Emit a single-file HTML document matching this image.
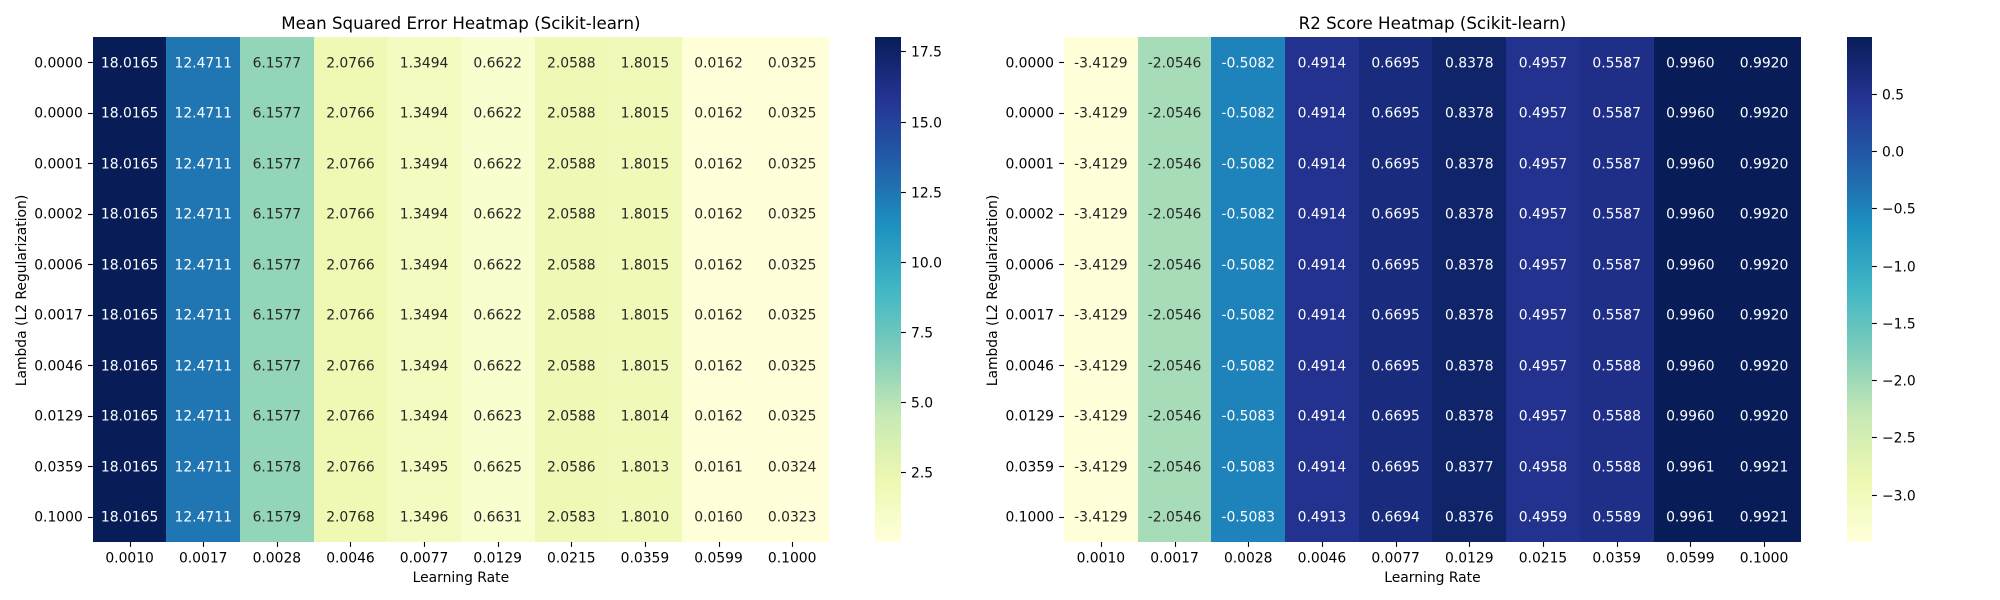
<!DOCTYPE html>
<html lang="en">
<head>
<meta charset="utf-8">
<title>Scikit-learn Heatmaps</title>
<style>
  html, body { margin: 0; padding: 0; background: #ffffff; }
  #figure { display: block; width: 2000px; height: 600px; }
  text { font-family: "DejaVu Sans", "Liberation Sans", sans-serif; }
</style>
</head>
<body>
<svg id="figure" xmlns="http://www.w3.org/2000/svg" width="2000" height="600" viewBox="0 0 2000 600">
  <defs>
    <linearGradient id="ylgnbu-gradient" x1="0" y1="1" x2="0" y2="0">
      <stop offset="0" stop-color="#ffffd9"/>
      <stop offset="0.125" stop-color="#edf8b1"/>
      <stop offset="0.25" stop-color="#c7e9b4"/>
      <stop offset="0.375" stop-color="#7fcdbb"/>
      <stop offset="0.5" stop-color="#41b6c4"/>
      <stop offset="0.625" stop-color="#1d91c0"/>
      <stop offset="0.75" stop-color="#225ea8"/>
      <stop offset="0.875" stop-color="#253494"/>
      <stop offset="1" stop-color="#081d58"/>
    </linearGradient>
  </defs>
</svg>
<script>
const learningRates = ["0.0010","0.0017","0.0028","0.0046","0.0077","0.0129","0.0215","0.0359","0.0599","0.1000"];
const lambdas = ["0.0000","0.0000","0.0001","0.0002","0.0006","0.0017","0.0046","0.0129","0.0359","0.1000"];

const mseValues = [
  [18.0165,12.4711,6.1577,2.0766,1.3494,0.6622,2.0588,1.8015,0.0162,0.0325],
  [18.0165,12.4711,6.1577,2.0766,1.3494,0.6622,2.0588,1.8015,0.0162,0.0325],
  [18.0165,12.4711,6.1577,2.0766,1.3494,0.6622,2.0588,1.8015,0.0162,0.0325],
  [18.0165,12.4711,6.1577,2.0766,1.3494,0.6622,2.0588,1.8015,0.0162,0.0325],
  [18.0165,12.4711,6.1577,2.0766,1.3494,0.6622,2.0588,1.8015,0.0162,0.0325],
  [18.0165,12.4711,6.1577,2.0766,1.3494,0.6622,2.0588,1.8015,0.0162,0.0325],
  [18.0165,12.4711,6.1577,2.0766,1.3494,0.6622,2.0588,1.8015,0.0162,0.0325],
  [18.0165,12.4711,6.1577,2.0766,1.3494,0.6623,2.0588,1.8014,0.0162,0.0325],
  [18.0165,12.4711,6.1578,2.0766,1.3495,0.6625,2.0586,1.8013,0.0161,0.0324],
  [18.0165,12.4711,6.1579,2.0768,1.3496,0.6631,2.0583,1.8010,0.0160,0.0323]
];

const r2Values = [
  [-3.4129,-2.0546,-0.5082,0.4914,0.6695,0.8378,0.4957,0.5587,0.9960,0.9920],
  [-3.4129,-2.0546,-0.5082,0.4914,0.6695,0.8378,0.4957,0.5587,0.9960,0.9920],
  [-3.4129,-2.0546,-0.5082,0.4914,0.6695,0.8378,0.4957,0.5587,0.9960,0.9920],
  [-3.4129,-2.0546,-0.5082,0.4914,0.6695,0.8378,0.4957,0.5587,0.9960,0.9920],
  [-3.4129,-2.0546,-0.5082,0.4914,0.6695,0.8378,0.4957,0.5587,0.9960,0.9920],
  [-3.4129,-2.0546,-0.5082,0.4914,0.6695,0.8378,0.4957,0.5587,0.9960,0.9920],
  [-3.4129,-2.0546,-0.5082,0.4914,0.6695,0.8378,0.4957,0.5588,0.9960,0.9920],
  [-3.4129,-2.0546,-0.5083,0.4914,0.6695,0.8378,0.4957,0.5588,0.9960,0.9920],
  [-3.4129,-2.0546,-0.5083,0.4914,0.6695,0.8377,0.4958,0.5588,0.9961,0.9921],
  [-3.4129,-2.0546,-0.5083,0.4913,0.6694,0.8376,0.4959,0.5589,0.9961,0.9921]
];

const mseColorbarTicks = [2.5,5.0,7.5,10.0,12.5,15.0,17.5];
const r2ColorbarTicks = [-3.0,-2.5,-2.0,-1.5,-1.0,-0.5,0.0,0.5];

const SVG_NS = "http://www.w3.org/2000/svg";
const figure = document.getElementById("figure");
const colormapStops = [[255,255,217],[237,248,177],[199,233,180],[127,205,187],[65,182,196],[29,145,192],[34,94,168],[37,52,148],[8,29,88]];

function colormap(t) {
  const clamped = Math.max(0, Math.min(1, t));
  const pos = clamped * (colormapStops.length - 1);
  const i = Math.min(Math.floor(pos), colormapStops.length - 2);
  const f = pos - i;
  return colormapStops[i].map((c, k) => c + (colormapStops[i + 1][k] - c) * f);
}

function relativeLuminance(rgb) {
  const lin = rgb.map(c => {
    const v = c / 255;
    return v <= 0.03928 ? v / 12.92 : Math.pow((v + 0.055) / 1.055, 2.4);
  });
  return 0.2126 * lin[0] + 0.7152 * lin[1] + 0.0722 * lin[2];
}

function make(tag, attrs, parent, content) {
  const el = document.createElementNS(SVG_NS, tag);
  for (const key in attrs) el.setAttribute(key, attrs[key]);
  if (content !== undefined) el.textContent = content;
  parent.appendChild(el);
  return el;
}

function drawHeatmap(spec) {
  const group = make("g", {}, figure);
  
  

  const flat = spec.values.flat();
  const vMin = Math.min(...flat);
  const vMax = Math.max(...flat);
  const xEdge = c => spec.x0 + (spec.x1 - spec.x0) * c / spec.columns.length;
  const yEdge = r => spec.y0 + (spec.y1 - spec.y0) * r / spec.rows.length;
  const cbY = v => spec.y1 - (v - vMin) / (vMax - vMin) * (spec.y1 - spec.y0);

  const title = make("text", { x: (spec.x0 + spec.x1) / 2, y: 29, "text-anchor": "middle", "font-size": "16.67px", fill: "#000" }, group, spec.title);
  
  

  const xTitle = make("text", { x: (spec.x0 + spec.x1) / 2, y: 582, "text-anchor": "middle", "font-size": "13.89px", fill: "#000" }, group, "Learning Rate");
  
  

  const yMid = (spec.y0 + spec.y1) / 2 + 1;
  const yTitle = make("text", { x: 0, y: 0, transform: "translate(" + (spec.x0 - 67) + " " + yMid + ") rotate(-90)", "text-anchor": "middle", "font-size": "13.89px", fill: "#000" }, group, "Lambda (L2 Regularization)");
  
  

  spec.values.forEach((row, r) => {
    row.forEach((value, c) => {
      const rgb = colormap((value - vMin) / (vMax - vMin));
      const left = Math.round(xEdge(c));
      const right = Math.round(xEdge(c + 1));
      const top = Math.round(yEdge(r));
      const bottom = Math.round(yEdge(r + 1));
      const cell = make("rect", { x: left, y: top, width: right - left, height: bottom - top, fill: "rgb(" + rgb.map(Math.round).join(",") + ")", "shape-rendering": "crispEdges" }, group);
      
      
      const label = make("text", { x: (xEdge(c) + xEdge(c + 1)) / 2, y: Math.floor((yEdge(r) + yEdge(r + 1)) / 2) + 5.4, "text-anchor": "middle", "font-size": "13.89px", fill: relativeLuminance(rgb) < 0.408 ? "#ffffff" : "#262626" }, group, value.toFixed(4));
      
      
    });
  });

  spec.columns.forEach((text, c) => {
    const x = Math.round((xEdge(c) + xEdge(c + 1)) / 2) + 0.5;
    const tick = make("line", { x1: x, x2: x, y1: spec.y1, y2: spec.y1 + 4.86, stroke: "#000", "stroke-width": 1.11 }, group);
    
    
    const label = make("text", { x: (xEdge(c) + xEdge(c + 1)) / 2, y: 562.3, "text-anchor": "middle", "font-size": "13.89px", fill: "#000" }, group, text);
    
    
  });

  spec.rows.forEach((text, r) => {
    const y = Math.round((yEdge(r) + yEdge(r + 1)) / 2) + 0.5;
    const tick = make("line", { x1: spec.x0 - 4.86, x2: spec.x0, y1: y, y2: y, stroke: "#000", "stroke-width": 1.11 }, group);
    
    
    const label = make("text", { x: spec.x0 - 10, y: Math.floor((yEdge(r) + yEdge(r + 1)) / 2) + 5.4, "text-anchor": "end", "font-size": "13.89px", fill: "#000" }, group, text);
    
    
  });

  const bar = make("rect", { x: spec.cbX0, y: spec.y0, width: spec.cbX1 - spec.cbX0, height: spec.y1 - spec.y0, fill: "url(#ylgnbu-gradient)" }, group);
  
  

  spec.ticks.forEach(value => {
    const y = Math.round(cbY(value)) + 0.5;
    const tick = make("line", { x1: spec.cbX1, x2: spec.cbX1 + 4.86, y1: y, y2: y, stroke: "#000", "stroke-width": 1.11 }, group);
    
    
    const label = make("text", { x: spec.cbX1 + 10, y: Math.round(cbY(value)) + 5.5, "text-anchor": "start", "font-size": "13.89px", fill: "#000" }, group, value.toFixed(1).replace("-", "\u2212"));
    
    
  });
}

drawHeatmap({ key: "mse", title: "Mean Squared Error Heatmap (Scikit-learn)", values: mseValues, columns: learningRates, rows: lambdas, ticks: mseColorbarTicks, x0: 92.8, x1: 829, y0: 37, y1: 542, cbX0: 875, cbX1: 901 });
drawHeatmap({ key: "r2", title: "R2 Score Heatmap (Scikit-learn)", values: r2Values, columns: learningRates, rows: lambdas, ticks: r2ColorbarTicks, x0: 1064, x1: 1800.9, y0: 37, y1: 542, cbX0: 1847, cbX1: 1872 });
</script>
</body>
</html>
